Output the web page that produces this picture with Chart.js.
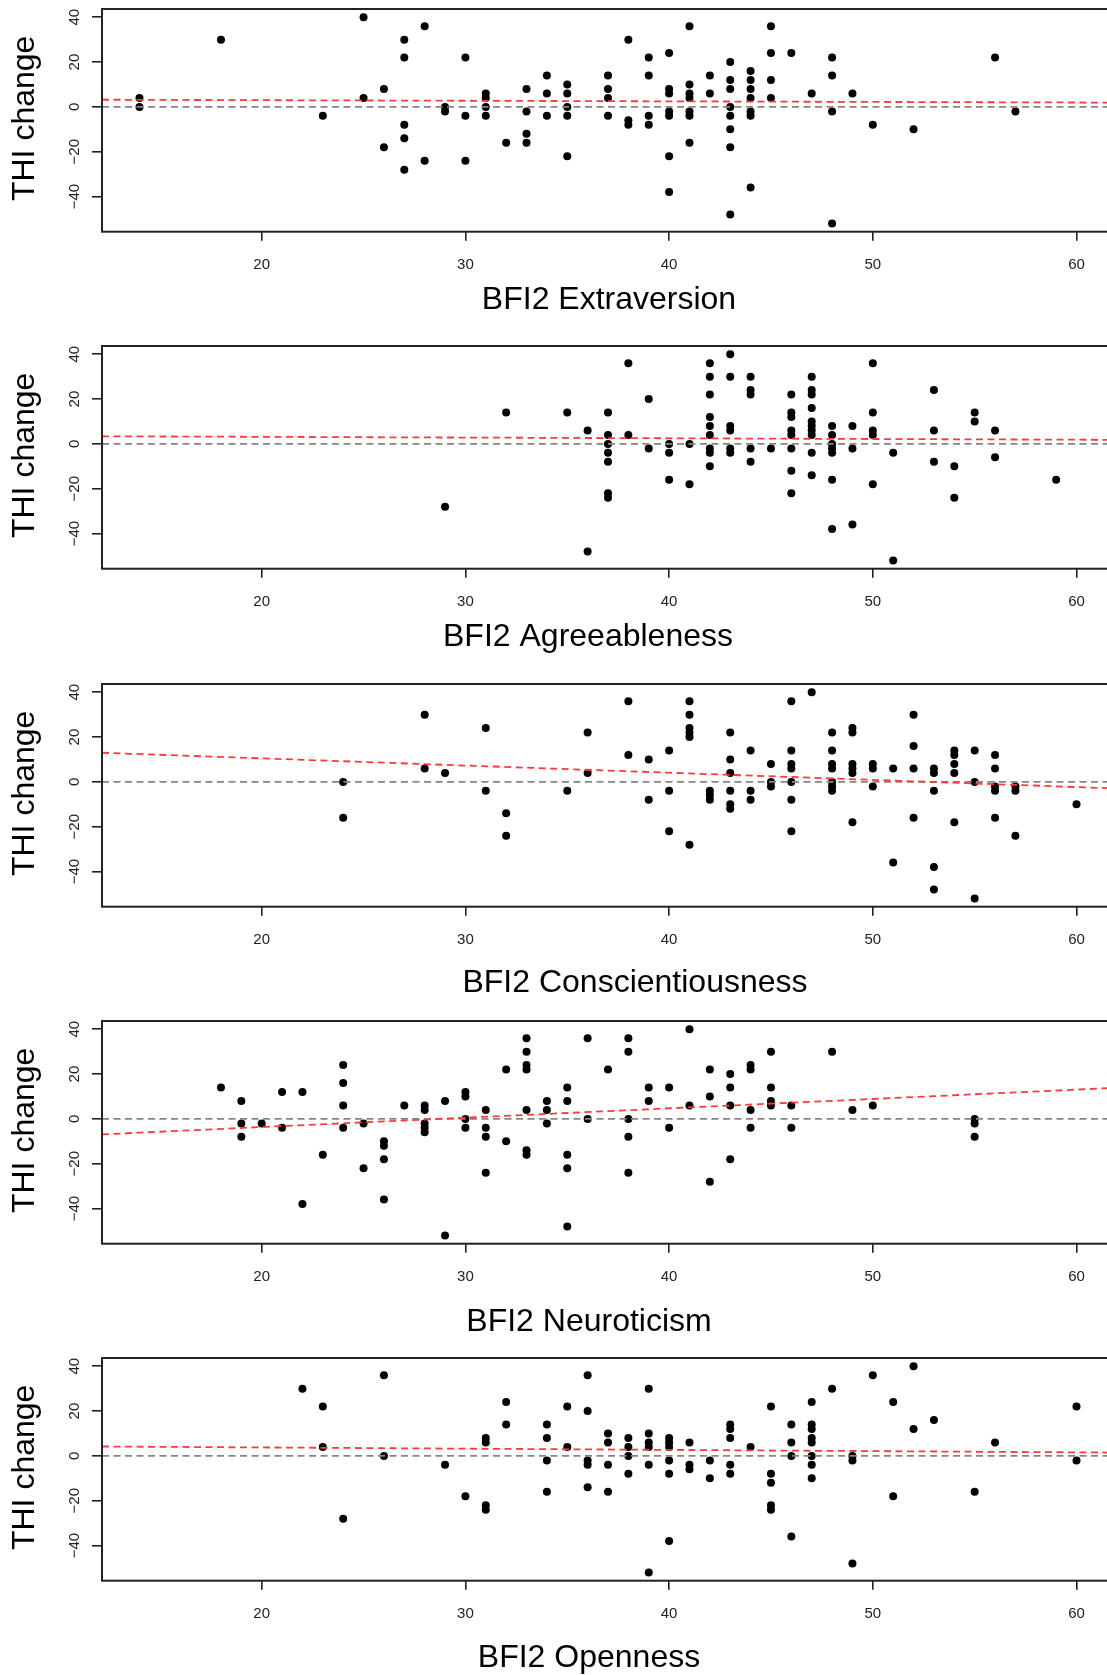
<!DOCTYPE html>
<html>
<head>
<meta charset="utf-8">
<title>THI change vs BFI2 traits</title>
<script src="https://cdn.jsdelivr.net/npm/chart.js@4.4.1/dist/chart.umd.min.js"></script>
<style>
  html, body { margin: 0; padding: 0; background: #fff; overflow: hidden; }
  body { width: 1107px; height: 1675px; position: relative; }
  .panel { position: absolute; left: 0; }
  canvas { display: block; }
</style>
</head>
<body>
<div class="panel" id="panel0"><canvas width="1130" height="337"></canvas></div>
<div class="panel" id="panel1"><canvas width="1130" height="337"></canvas></div>
<div class="panel" id="panel2"><canvas width="1130" height="337"></canvas></div>
<div class="panel" id="panel3"><canvas width="1130" height="337"></canvas></div>
<div class="panel" id="panel4"><canvas width="1130" height="337"></canvas></div>
<script>
// tick labels
const xTicks = [20, 30, 40, 50, 60];
const yTicks = [-40, -20, 0, 20, 40];

const traits = ['Extraversion', 'Agreeableness', 'Conscientiousness', 'Neuroticism', 'Openness'];

// [BFI2 score, THI change]
const extraversion = [
  [14,4],[14,0],[18,30],[23,-4],[25,40],[25,4],[26,8],[26,-18],
  [27,30],[27,22],[27,-8],[27,-14],[27,-28],[28,36],[28,-24],[29,0],[29,-2],
  [30,22],[30,-4],[30,-24],[31,6],[31,4],[31,0],[31,-4],[32,-16],
  [33,8],[33,-2],[33,-12],[33,-16],[34,14],[34,6],[34,-4],
  [35,10],[35,6],[35,0],[35,-4],[35,-22],[37,14],[37,8],[37,4],[37,-4],
  [38,30],[38,-6],[38,-8],[39,22],[39,14],[39,-4],[39,-8],
  [40,24],[40,8],[40,6],[40,-2],[40,-4],[40,-22],[40,-38],
  [41,36],[41,10],[41,6],[41,4],[41,-2],[41,-4],[41,-16],[42,14],[42,6],
  [43,20],[43,12],[43,8],[43,0],[43,-4],[43,-10],[43,-18],[43,-48],
  [44,16],[44,12],[44,8],[44,4],[44,-2],[44,-4],[44,-36],
  [45,36],[45,24],[45,12],[45,4],[46,24],[47,6],
  [48,22],[48,14],[48,-2],[48,-52],[49,6],[50,-8],[52,-10],[56,22],[57,-2]
];

const agreeableness = [
  [29,-28],[32,14],[35,14],[36,6],[36,-48],
  [37,14],[37,4],[37,0],[37,-4],[37,-8],[37,-22],[37,-24],
  [38,36],[38,4],[39,20],[39,-2],[40,0],[40,-4],[40,-16],[41,0],[41,-18],
  [42,36],[42,30],[42,22],[42,12],[42,8],[42,4],[42,-2],[42,-4],[42,-10],
  [43,40],[43,30],[43,8],[43,6],[43,-2],[43,-4],
  [44,30],[44,24],[44,22],[44,-2],[44,-8],[45,-2],
  [46,22],[46,14],[46,12],[46,6],[46,4],[46,-2],[46,-12],[46,-22],
  [47,30],[47,24],[47,22],[47,16],[47,10],[47,8],[47,6],[47,4],[47,-4],[47,-14],
  [48,8],[48,4],[48,0],[48,-2],[48,-4],[48,-16],[48,-38],
  [49,8],[49,-2],[49,-36],[50,36],[50,14],[50,6],[50,4],[50,-18],
  [51,-4],[51,-52],[53,24],[53,6],[53,-8],[54,-10],[54,-24],
  [55,14],[55,10],[56,6],[56,-6],[59,-16]
];

const conscientiousness = [
  [24,0],[24,-16],[28,30],[28,6],[29,4],[31,24],[31,-4],[32,-14],[32,-24],
  [35,-4],[36,22],[36,4],[38,36],[38,12],[39,10],[39,-8],[40,14],[40,-4],[40,-22],
  [41,36],[41,30],[41,24],[41,22],[41,20],[41,-28],[42,-4],[42,-6],[42,-8],
  [43,22],[43,10],[43,4],[43,-4],[43,-10],[43,-12],[44,14],[44,-4],[44,-8],
  [45,8],[45,0],[45,-2],[46,36],[46,14],[46,8],[46,6],[46,0],[46,-8],[46,-22],
  [47,40],[48,22],[48,14],[48,8],[48,6],[48,0],[48,-2],[48,-4],
  [49,24],[49,22],[49,8],[49,6],[49,4],[49,-18],[50,8],[50,6],[50,-2],
  [51,6],[51,-36],[52,30],[52,16],[52,6],[52,-16],
  [53,6],[53,4],[53,-4],[53,-38],[53,-48],[54,14],[54,12],[54,8],[54,4],[54,-18],
  [55,14],[55,0],[55,-52],[56,12],[56,6],[56,-2],[56,-4],[56,-16],
  [57,-2],[57,-4],[57,-24],[60,-10]
];

const neuroticism = [
  [18,14],[19,8],[19,-2],[19,-8],[20,-2],[21,12],[21,-4],[22,12],[22,-38],[23,-16],
  [24,24],[24,16],[24,6],[24,-4],[25,-2],[25,-22],[26,-10],[26,-12],[26,-18],[26,-36],
  [27,6],[28,6],[28,4],[28,-2],[28,-4],[28,-6],[29,8],[29,-52],
  [30,12],[30,10],[30,0],[30,-4],[31,4],[31,-4],[31,-8],[31,-24],[32,22],[32,-10],
  [33,36],[33,30],[33,24],[33,22],[33,4],[33,-14],[33,-16],[34,8],[34,4],[34,-2],
  [35,14],[35,8],[35,-16],[35,-22],[35,-48],[36,36],[36,0],[37,22],
  [38,36],[38,30],[38,0],[38,-8],[38,-24],[39,14],[39,8],[40,14],[40,-4],
  [41,40],[41,6],[42,22],[42,10],[42,-28],[43,20],[43,14],[43,6],[43,-18],
  [44,24],[44,22],[44,4],[44,-4],[45,30],[45,14],[45,8],[45,6],[46,6],[46,-4],
  [48,30],[49,4],[50,6],[55,0],[55,-2],[55,-8]
];

const openness = [
  [22,30],[23,22],[23,4],[24,-28],[26,36],[26,0],[29,-4],[30,-18],
  [31,8],[31,6],[31,-22],[31,-24],[32,24],[32,14],[34,14],[34,8],[34,-2],[34,-16],
  [35,22],[35,4],[36,36],[36,20],[36,-2],[36,-4],[36,-14],
  [37,10],[37,6],[37,-4],[37,-16],[38,8],[38,4],[38,0],[38,-8],
  [39,30],[39,10],[39,6],[39,4],[39,-4],[39,-52],
  [40,8],[40,6],[40,4],[40,-2],[40,-8],[40,-38],[41,6],[41,-4],[41,-6],
  [42,-2],[42,-10],[43,14],[43,12],[43,8],[43,-4],[43,-8],[44,4],
  [45,22],[45,-8],[45,-12],[45,-22],[45,-24],[46,14],[46,6],[46,0],[46,-36],
  [47,24],[47,14],[47,12],[47,8],[47,6],[47,0],[47,-4],[47,-10],
  [48,30],[49,0],[49,-2],[49,-48],[50,36],[51,24],[51,-18],[52,40],[52,12],
  [53,16],[55,-16],[56,6],[60,22],[60,-2]
];

const panelData = [extraversion, agreeableness, conscientiousness, neuroticism, openness];

// fitted regression lines (red dashed)
const fitIntercept = [3.52, 3.79, 16.9, -11.98, 4.87];
const fitSlope = [-0.026, -0.032, -0.32, 0.4175, -0.0547];

// axis limits (R style 4% padding)
const X_MIN = 12.16, X_MAX = 61.84;
const Y_MIN = -55.68, Y_MAX = 43.68;

// layout
const CANVAS_W = 1130, CANVAS_H = 337;
const PANEL_TOP = [0, 337, 675, 1012, 1349];
const BOX_TOP = 9, BOX_H = 222.7, BOX_LEFT = 102, BOX_RIGHT = 1114;
const TITLE_GAP = [68, 68, 76, 78, 77];
const TITLE_X = [609, 588, 635, 589, 589];
const FONT = "'Liberation Sans', Arial, Helvetica, sans-serif";

function minusLabel(v) {
    return v < 0 ? '\u2212' + Math.abs(v) : String(v);
}

// box, rotated y labels and axis titles, drawn like base R graphics
function makeFrame(i) {
    return {
        id: 'frame' + i,
        afterDraw(chart) {
            const ctx = chart.ctx;
            const a = chart.chartArea;
            const yScale = chart.scales.y;
            ctx.save();
            ctx.strokeStyle = '#222';
            ctx.lineWidth = 2;
            ctx.strokeRect(a.left, a.top, a.right - a.left, a.bottom - a.top);

            ctx.fillStyle = '#222';
            ctx.font = '15px ' + FONT;
            ctx.textAlign = 'center';
            ctx.textBaseline = 'middle';
            yTicks.forEach(v => {
                ctx.save();
                ctx.translate(75, yScale.getPixelForValue(v));
                ctx.rotate(-Math.PI / 2);
                ctx.fillText(minusLabel(v), 0, 0);
                ctx.restore();
            });

            ctx.fillStyle = '#000';
            ctx.font = '32px ' + FONT;
            ctx.save();
            ctx.translate(25, (a.top + a.bottom) / 2 - 2);
            ctx.rotate(-Math.PI / 2);
            ctx.fillText('THI change', 0, 0);
            ctx.restore();

            ctx.fillText('BFI2 ' + traits[i], TITLE_X[i], a.bottom + TITLE_GAP[i]);
            ctx.restore();
        }
    };
}

panelData.forEach((points, i) => {
    const div = document.getElementById('panel' + i);
    div.style.top = PANEL_TOP[i] + 'px';
    const ctx = div.querySelector('canvas').getContext('2d');

    new Chart(ctx, {
        type: 'scatter',
        data: {
            datasets: [
                {
                    // red dashed fit line
                    data: [
                        { x: X_MIN, y: fitIntercept[i] + fitSlope[i] * X_MIN },
                        { x: X_MAX, y: fitIntercept[i] + fitSlope[i] * X_MAX }
                    ],
                    showLine: true,
                    borderColor: '#ff3a3a',
                    borderWidth: 1.8,
                    borderDash: [7, 4.5],
                    pointRadius: 0,
                    order: 0
                },
                {
                    // grey dashed zero line
                    data: [{ x: X_MIN, y: 0 }, { x: X_MAX, y: 0 }],
                    showLine: true,
                    borderColor: '#858585',
                    borderWidth: 1.8,
                    borderDash: [7, 4.5],
                    pointRadius: 0,
                    order: 1
                },
                {
                    data: points.map(p => ({ x: p[0], y: p[1] })),
                    backgroundColor: '#000',
                    borderWidth: 0,
                    pointRadius: 4,
                    order: 2
                }
            ]
        },
        options: {
            responsive: false,
            animation: false,
            events: [],
            layout: { padding: { top: BOX_TOP, right: CANVAS_W - BOX_RIGHT, bottom: 0, left: 0 } },
            plugins: { legend: { display: false }, tooltip: { enabled: false } },
            scales: {
                x: {
                    type: 'linear',
                    min: X_MIN,
                    max: X_MAX,
                    afterBuildTicks: s => { s.ticks = xTicks.map(v => ({ value: v })); },
                    afterFit: s => { s.height = CANVAS_H - BOX_TOP - BOX_H; },
                    border: { display: false },
                    grid: { drawOnChartArea: false, drawTicks: true, tickLength: 9, color: '#222', lineWidth: 1.6 },
                    ticks: { color: '#222', font: { family: FONT, size: 15 }, padding: 15, maxRotation: 0 }
                },
                y: {
                    type: 'linear',
                    min: Y_MIN,
                    max: Y_MAX,
                    afterBuildTicks: s => { s.ticks = yTicks.map(v => ({ value: v })); },
                    afterFit: s => { s.width = BOX_LEFT; },
                    border: { display: false },
                    grid: { drawOnChartArea: false, drawTicks: true, tickLength: 10, color: '#222', lineWidth: 1.6 },
                    ticks: { display: false }
                }
            }
        },
        plugins: [makeFrame(i)]
    });
});
</script>
</body>
</html>
